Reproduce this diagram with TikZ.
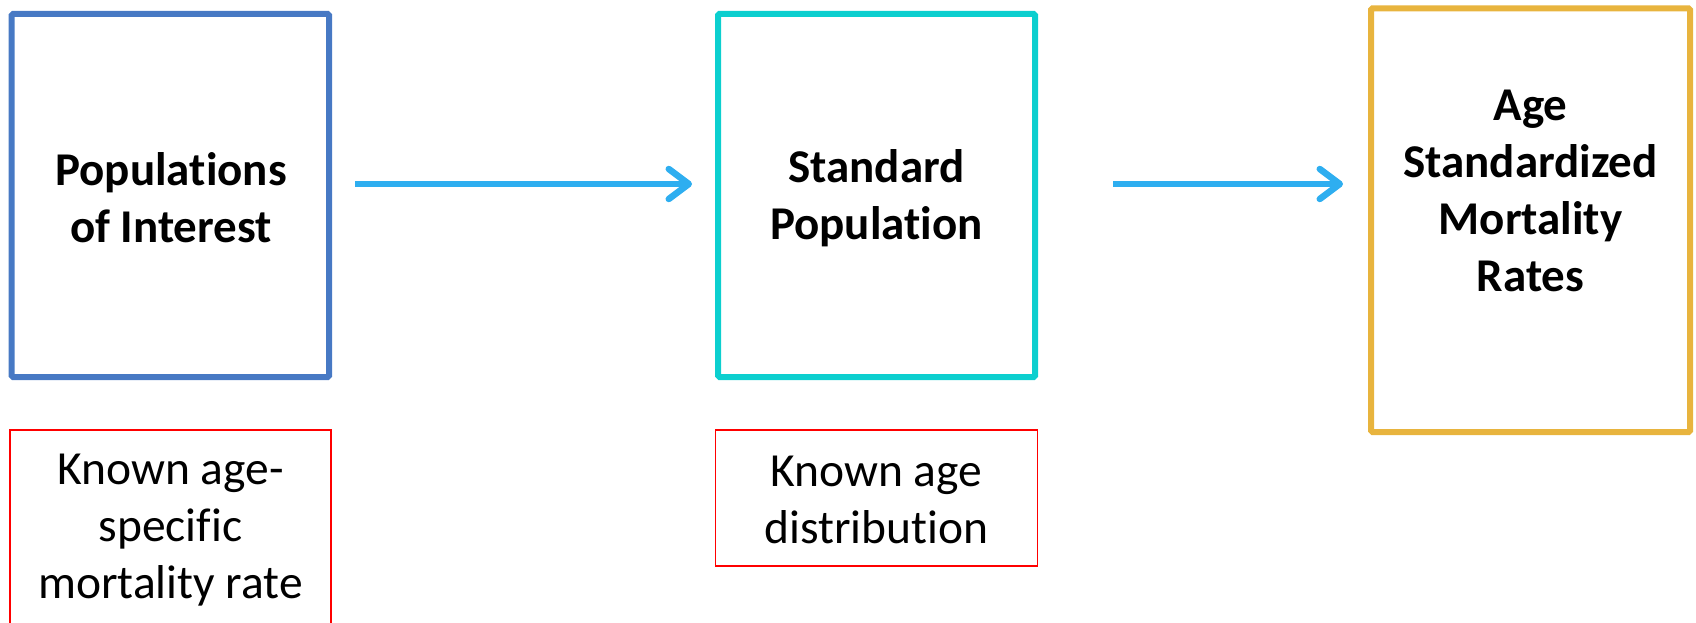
\documentclass[tikz,border=0pt]{standalone}
\usepackage{fontspec}
\setmainfont[Ligatures={NoCommon}]{Carlito}
\usetikzlibrary{arrows.meta}
\definecolor{cblue}{HTML}{4779C4}
\definecolor{cteal}{HTML}{0CCFCF}
\definecolor{cgold}{HTML}{E8B43E}
\definecolor{carrow}{HTML}{2EAEF0}
\definecolor{cred}{HTML}{FF0000}
\tikzset{
  bigbox/.style={draw, line width=6pt, rounded corners=1.5pt, inner sep=0pt},
  notebox/.style={draw=cred, line width=1.5pt, inner sep=0pt},
  boldtxt/.style={font=\fontsize{47}{57}\selectfont\bfseries, align=center},
  regtxt/.style={font=\fontsize{47.5}{57}\selectfont, align=center},
  arr/.style={draw=carrow, line width=6.5pt, -{Straight Barb[length=20pt,width=30pt,round]}}
}
\begin{document}
\begin{tikzpicture}[x=1pt,y=-1pt]
\useasboundingbox (0,0) rectangle (1696,623);
\clip (0,0) rectangle (1696,623);
% main boxes
\draw[bigbox, draw=cblue] (11.7,13.8) rectangle (329,377);
\node[inner sep=0pt] (b1) at (170.3,195.4) {};
\draw[bigbox, draw=cteal] (718,13.8) rectangle (1035,377);
\node[inner sep=0pt] (b2) at (876.5,195.4) {};
\draw[bigbox, draw=cgold] (1371,8.4) rectangle (1690,432);
\node[inner sep=0pt] (b3) at (1530.5,220) {};
% texts
\node[boldtxt] (t1) at (171,198) {Populations\\of Interest};
\node[boldtxt] (t2) at (876.5,198) {Standard\\Population};
\node[boldtxt] (t3) at (1530.5,191) {Age\\Standardized\\Mortality\\Rates};
% note boxes
\draw[notebox] (10,430) rectangle (331,632);
\node[regtxt] (n1) at (170.5,530) {Known age-\\specific\\mortality rate};
\draw[notebox] (715.5,430) rectangle (1037.5,566);
\node[regtxt] (n2) at (876.5,500) {Known age\\distribution};
% arrows
\coordinate (a1s) at (355,184);
\coordinate (a1e) at (692,184);
\coordinate (a2s) at (1113,184);
\coordinate (a2e) at (1343,184);
\draw[arr] (a1s) -- (a1e);
\draw[arr] (a2s) -- (a2e);
\end{tikzpicture}
\end{document}
